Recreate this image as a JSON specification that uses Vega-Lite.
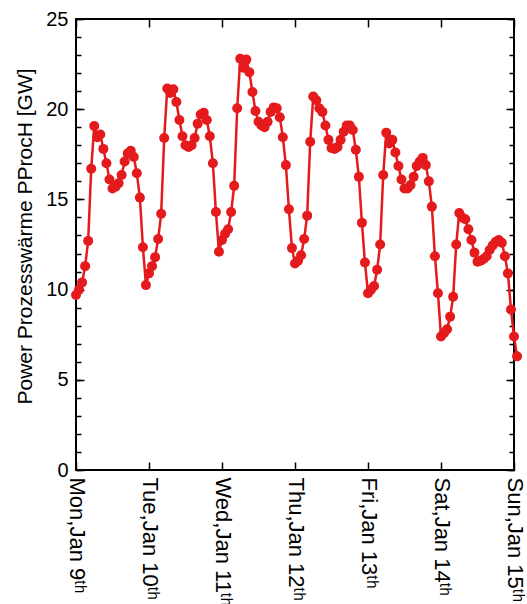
{
  "$schema": "https://vega.github.io/schema/vega-lite/v6.json",
  "width": 438,
  "height": 451,
  "autosize": {"type": "none"},
  "padding": {"left": 76, "top": 19, "right": 13, "bottom": 134},
  "background": "white",
  "config": {
    "view": {"stroke": "black", "strokeWidth": 2},
    "font": "Liberation Sans",
    "axis": {"domain": false, "grid": false, "tickColor": "black", "tickWidth": 1.5, "labelColor": "black", "titleColor": "black", "labelFont": "Liberation Sans", "titleFont": "Liberation Sans", "titleFontWeight": "normal"}
  },
  "data": {"values": [
    {"t":"2017-01-09T00:00","p":9.7},{"t":"2017-01-09T01:00","p":10.0},{"t":"2017-01-09T02:00","p":10.4},{"t":"2017-01-09T03:00","p":11.3},
    {"t":"2017-01-09T04:00","p":12.7},{"t":"2017-01-09T05:00","p":16.7},{"t":"2017-01-09T06:00","p":19.07},{"t":"2017-01-09T07:00","p":18.45},
    {"t":"2017-01-09T08:00","p":18.6},{"t":"2017-01-09T09:00","p":17.8},{"t":"2017-01-09T10:00","p":17.0},{"t":"2017-01-09T11:00","p":16.1},
    {"t":"2017-01-09T12:00","p":15.6},{"t":"2017-01-09T13:00","p":15.7},{"t":"2017-01-09T14:00","p":15.9},{"t":"2017-01-09T15:00","p":16.35},
    {"t":"2017-01-09T16:00","p":17.1},{"t":"2017-01-09T17:00","p":17.55},{"t":"2017-01-09T18:00","p":17.7},{"t":"2017-01-09T19:00","p":17.35},
    {"t":"2017-01-09T20:00","p":16.45},{"t":"2017-01-09T21:00","p":15.1},{"t":"2017-01-09T22:00","p":12.35},{"t":"2017-01-09T23:00","p":10.25},
    {"t":"2017-01-10T00:00","p":10.9},{"t":"2017-01-10T01:00","p":11.3},{"t":"2017-01-10T02:00","p":11.8},{"t":"2017-01-10T03:00","p":12.8},
    {"t":"2017-01-10T04:00","p":14.2},{"t":"2017-01-10T05:00","p":18.4},{"t":"2017-01-10T06:00","p":21.15},{"t":"2017-01-10T07:00","p":20.9},
    {"t":"2017-01-10T08:00","p":21.1},{"t":"2017-01-10T09:00","p":20.4},{"t":"2017-01-10T10:00","p":19.4},{"t":"2017-01-10T11:00","p":18.5},
    {"t":"2017-01-10T12:00","p":18.0},{"t":"2017-01-10T13:00","p":17.9},{"t":"2017-01-10T14:00","p":18.0},{"t":"2017-01-10T15:00","p":18.4},
    {"t":"2017-01-10T16:00","p":19.2},{"t":"2017-01-10T17:00","p":19.7},{"t":"2017-01-10T18:00","p":19.8},{"t":"2017-01-10T19:00","p":19.4},
    {"t":"2017-01-10T20:00","p":18.5},{"t":"2017-01-10T21:00","p":17.0},{"t":"2017-01-10T22:00","p":14.3},{"t":"2017-01-10T23:00","p":12.1},
    {"t":"2017-01-11T00:00","p":12.75},{"t":"2017-01-11T01:00","p":13.1},{"t":"2017-01-11T02:00","p":13.35},{"t":"2017-01-11T03:00","p":14.3},
    {"t":"2017-01-11T04:00","p":15.75},{"t":"2017-01-11T05:00","p":20.05},{"t":"2017-01-11T06:00","p":22.8},{"t":"2017-01-11T07:00","p":22.3},
    {"t":"2017-01-11T08:00","p":22.75},{"t":"2017-01-11T09:00","p":22.05},{"t":"2017-01-11T10:00","p":20.95},{"t":"2017-01-11T11:00","p":19.9},
    {"t":"2017-01-11T12:00","p":19.3},{"t":"2017-01-11T13:00","p":19.1},{"t":"2017-01-11T14:00","p":19.0},{"t":"2017-01-11T15:00","p":19.3},
    {"t":"2017-01-11T16:00","p":19.85},{"t":"2017-01-11T17:00","p":20.1},{"t":"2017-01-11T18:00","p":20.05},{"t":"2017-01-11T19:00","p":19.55},
    {"t":"2017-01-11T20:00","p":18.45},{"t":"2017-01-11T21:00","p":16.9},{"t":"2017-01-11T22:00","p":14.45},{"t":"2017-01-11T23:00","p":12.3},
    {"t":"2017-01-12T00:00","p":11.45},{"t":"2017-01-12T01:00","p":11.6},{"t":"2017-01-12T02:00","p":11.9},{"t":"2017-01-12T03:00","p":12.8},
    {"t":"2017-01-12T04:00","p":14.1},{"t":"2017-01-12T05:00","p":18.2},{"t":"2017-01-12T06:00","p":20.7},{"t":"2017-01-12T07:00","p":20.5},
    {"t":"2017-01-12T08:00","p":20.05},{"t":"2017-01-12T09:00","p":19.85},{"t":"2017-01-12T10:00","p":19.1},{"t":"2017-01-12T11:00","p":18.3},
    {"t":"2017-01-12T12:00","p":17.85},{"t":"2017-01-12T13:00","p":17.8},{"t":"2017-01-12T14:00","p":17.9},{"t":"2017-01-12T15:00","p":18.3},
    {"t":"2017-01-12T16:00","p":18.75},{"t":"2017-01-12T17:00","p":19.1},{"t":"2017-01-12T18:00","p":19.1},{"t":"2017-01-12T19:00","p":18.85},
    {"t":"2017-01-12T20:00","p":17.75},{"t":"2017-01-12T21:00","p":16.25},{"t":"2017-01-12T22:00","p":13.7},{"t":"2017-01-12T23:00","p":11.5},
    {"t":"2017-01-13T00:00","p":9.8},{"t":"2017-01-13T01:00","p":10.0},{"t":"2017-01-13T02:00","p":10.2},{"t":"2017-01-13T03:00","p":11.1},
    {"t":"2017-01-13T04:00","p":12.5},{"t":"2017-01-13T05:00","p":16.35},{"t":"2017-01-13T06:00","p":18.7},{"t":"2017-01-13T07:00","p":18.1},
    {"t":"2017-01-13T08:00","p":18.3},{"t":"2017-01-13T09:00","p":17.6},{"t":"2017-01-13T10:00","p":16.85},{"t":"2017-01-13T11:00","p":16.1},
    {"t":"2017-01-13T12:00","p":15.6},{"t":"2017-01-13T13:00","p":15.6},{"t":"2017-01-13T14:00","p":15.8},{"t":"2017-01-13T15:00","p":16.25},
    {"t":"2017-01-13T16:00","p":16.85},{"t":"2017-01-13T17:00","p":17.1},{"t":"2017-01-13T18:00","p":17.3},{"t":"2017-01-13T19:00","p":16.9},
    {"t":"2017-01-13T20:00","p":16.0},{"t":"2017-01-13T21:00","p":14.6},{"t":"2017-01-13T22:00","p":11.85},{"t":"2017-01-13T23:00","p":9.8},
    {"t":"2017-01-14T00:00","p":7.4},{"t":"2017-01-14T01:00","p":7.6},{"t":"2017-01-14T02:00","p":7.8},{"t":"2017-01-14T03:00","p":8.5},
    {"t":"2017-01-14T04:00","p":9.6},{"t":"2017-01-14T05:00","p":12.5},{"t":"2017-01-14T06:00","p":14.25},{"t":"2017-01-14T07:00","p":14.0},
    {"t":"2017-01-14T08:00","p":13.9},{"t":"2017-01-14T09:00","p":13.35},{"t":"2017-01-14T10:00","p":12.75},{"t":"2017-01-14T11:00","p":12.05},
    {"t":"2017-01-14T12:00","p":11.55},{"t":"2017-01-14T13:00","p":11.6},{"t":"2017-01-14T14:00","p":11.7},{"t":"2017-01-14T15:00","p":11.85},
    {"t":"2017-01-14T16:00","p":12.2},{"t":"2017-01-14T17:00","p":12.45},{"t":"2017-01-14T18:00","p":12.65},{"t":"2017-01-14T19:00","p":12.75},
    {"t":"2017-01-14T20:00","p":12.6},{"t":"2017-01-14T21:00","p":11.85},{"t":"2017-01-14T22:00","p":10.9},{"t":"2017-01-14T23:00","p":8.9},
    {"t":"2017-01-15T00:00","p":7.4},{"t":"2017-01-15T01:00","p":6.3}
  ]},
  "resolve": {"axis": {"x": "independent", "y": "independent"}},
  "layer": [
    {
      "mark": {"type": "line", "color": "#e41a1c", "strokeWidth": 2.5},
      "encoding": {
        "x": {"field": "t", "type": "temporal",
          "scale": {"domain": [{"year": 2017, "month": 1, "date": 9}, {"year": 2017, "month": 1, "date": 15}], "nice": false},
          "axis": {"orient": "bottom", "title": null, "tickSize": 8, "offset": -8,
            "values": [{"year": 2017, "month": 1, "date": 9}, {"year": 2017, "month": 1, "date": 10}, {"year": 2017, "month": 1, "date": 11}, {"year": 2017, "month": 1, "date": 12}, {"year": 2017, "month": 1, "date": 13}, {"year": 2017, "month": 1, "date": 14}, {"year": 2017, "month": 1, "date": 15}],
            "labelAngle": 90, "labelFontSize": 22, "labelPadding": 7, "labelAlign": "left", "labelBaseline": "middle",
            "labelExpr": "timeFormat(datum.value, '%a,%b %e') + 'ᵗʰ'", "labelOverlap": false, "labelFlush": false, "labelBound": false}},
        "y": {"field": "p", "type": "quantitative",
          "scale": {"domain": [0, 25], "nice": false, "zero": true},
          "axis": {"orient": "left", "values": [0, 5, 10, 15, 20, 25], "tickSize": 8, "offset": -8, "labelFontSize": 20, "labelPadding": 8,
            "title": "Power Prozesswärme  PProcH [GW]", "titleFontSize": 21, "titlePadding": 10, "titleY": 217, "labelFlush": false, "labelOverlap": false}}
      }
    },
    {
      "mark": {"type": "point", "filled": true, "color": "#e41a1c", "size": 100, "opacity": 1},
      "encoding": {
        "x": {"field": "t", "type": "temporal",
          "axis": {"orient": "top", "title": null, "labels": false, "tickSize": 8, "offset": -8,
            "values": [{"year": 2017, "month": 1, "date": 9}, {"year": 2017, "month": 1, "date": 10}, {"year": 2017, "month": 1, "date": 11}, {"year": 2017, "month": 1, "date": 12}, {"year": 2017, "month": 1, "date": 13}, {"year": 2017, "month": 1, "date": 14}, {"year": 2017, "month": 1, "date": 15}]}},
        "y": {"field": "p", "type": "quantitative",
          "axis": {"orient": "left", "title": null, "labels": false, "tickSize": 5, "offset": -5,
            "values": [0,1,2,3,4,5,6,7,8,9,10,11,12,13,14,15,16,17,18,19,20,21,22,23,24,25]}}
      }
    },
    {
      "mark": {"type": "point", "opacity": 0},
      "encoding": {
        "x": {"field": "t", "type": "temporal", "axis": null},
        "y": {"field": "p", "type": "quantitative",
          "axis": {"orient": "right", "title": null, "labels": false, "tickSize": 8, "offset": -8, "values": [0, 5, 10, 15, 20, 25]}}
      }
    },
    {
      "mark": {"type": "point", "opacity": 0},
      "encoding": {
        "x": {"field": "t", "type": "temporal", "axis": null},
        "y": {"field": "p", "type": "quantitative",
          "axis": {"orient": "right", "title": null, "labels": false, "tickSize": 5, "offset": -5,
            "values": [0,1,2,3,4,5,6,7,8,9,10,11,12,13,14,15,16,17,18,19,20,21,22,23,24,25]}}
      }
    }
  ]
}
